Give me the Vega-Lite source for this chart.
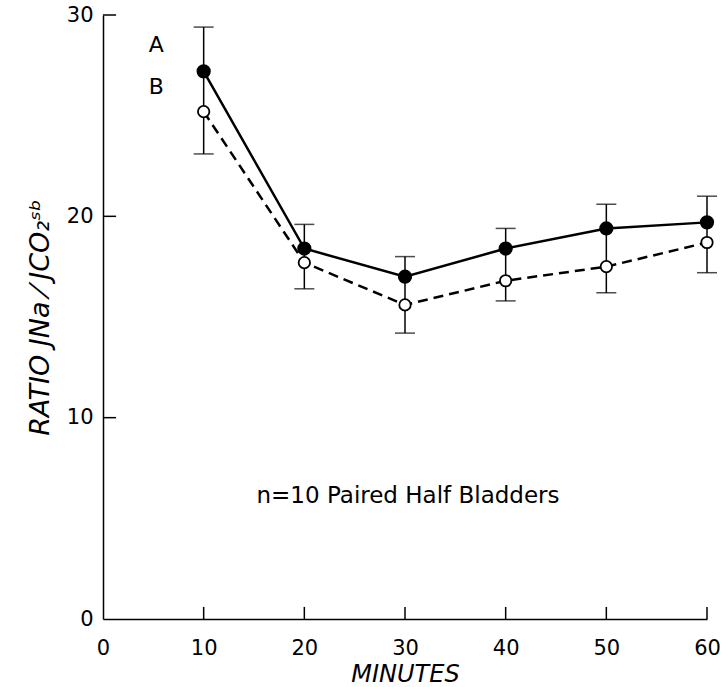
{
  "$schema": "https://vega.github.io/schema/vega-lite/v6.json",
  "width": 604,
  "height": 604,
  "autosize": "none",
  "padding": {"left": 103, "top": 15, "right": 18, "bottom": 68},
  "background": "white",
  "config": {
    "view": {"stroke": null},
    "font": "DejaVu Sans",
    "axis": {
      "grid": false,
      "domainColor": "black",
      "domainWidth": 1.5,
      "ticks": false,
      "labelFlush": false,
      "labelColor": "black",
      "labelFont": "DejaVu Sans",
      "labelFontSize": 21,
      "titleFont": "DejaVu Sans",
      "titleFontSize": 24,
      "titleFontStyle": "italic",
      "titleFontWeight": "normal",
      "titleColor": "black"
    }
  },
  "datasets": {
    "pts": [
      {"min": 10, "series": "A", "value": 27.2},
      {"min": 20, "series": "A", "value": 18.4},
      {"min": 30, "series": "A", "value": 17.0},
      {"min": 40, "series": "A", "value": 18.4},
      {"min": 50, "series": "A", "value": 19.4},
      {"min": 60, "series": "A", "value": 19.7},
      {"min": 10, "series": "B", "value": 25.2},
      {"min": 20, "series": "B", "value": 17.7},
      {"min": 30, "series": "B", "value": 15.6},
      {"min": 40, "series": "B", "value": 16.8},
      {"min": 50, "series": "B", "value": 17.5},
      {"min": 60, "series": "B", "value": 18.7}
    ],
    "err": [
      {"min": 10, "lo": 23.1, "hi": 29.4},
      {"min": 20, "lo": 16.4, "hi": 19.6},
      {"min": 30, "lo": 14.2, "hi": 18.0},
      {"min": 40, "lo": 15.8, "hi": 19.4},
      {"min": 50, "lo": 16.2, "hi": 20.6},
      {"min": 60, "lo": 17.2, "hi": 21.0}
    ],
    "xticks": [
      {"x": 10, "y0": 0, "y1": 0.6},
      {"x": 20, "y0": 0, "y1": 0.6},
      {"x": 30, "y0": 0, "y1": 0.6},
      {"x": 40, "y0": 0, "y1": 0.6},
      {"x": 50, "y0": 0, "y1": 0.6},
      {"x": 60, "y0": 0, "y1": 0.6}
    ],
    "yticks": [
      {"y": 10, "x0": 0, "x1": 1.3},
      {"y": 20, "x0": 0, "x1": 1.3},
      {"y": 30, "x0": 0, "x1": 1.3}
    ],
    "labels": [
      {"x": 5.3, "y": 28.5, "text": "A", "size": 22},
      {"x": 5.3, "y": 26.4, "text": "B", "size": 22},
      {"x": 30.3, "y": 6.1, "text": "n=10 Paired Half Bladders", "size": 23}
    ]
  },
  "layer": [
    {
      "data": {"name": "err"},
      "mark": {"type": "rule", "color": "black", "strokeWidth": 1.5},
      "encoding": {
        "x": {"field": "min", "type": "quantitative", "scale": {"domain": [0, 60], "nice": false},
              "axis": {"values": [0, 10, 20, 30, 40, 50, 60], "title": "MINUTES", "labelPadding": 18, "titlePadding": 4}},
        "y": {"field": "lo", "type": "quantitative", "scale": {"domain": [0, 30], "nice": false},
              "axis": {"values": [0, 10, 20, 30], "title": "RATIO JNa ⁄ JCO₂ˢᵇ", "titleFontSize": 27, "labelPadding": 10, "titlePadding": 12}},
        "y2": {"field": "hi"}
      }
    },
    {
      "data": {"name": "xticks"},
      "mark": {"type": "rule", "color": "black", "strokeWidth": 1.5},
      "encoding": {
        "x": {"field": "x", "type": "quantitative"},
        "y": {"field": "y0", "type": "quantitative"},
        "y2": {"field": "y1"}
      }
    },
    {
      "data": {"name": "yticks"},
      "mark": {"type": "rule", "color": "black", "strokeWidth": 1.5},
      "encoding": {
        "y": {"field": "y", "type": "quantitative"},
        "x": {"field": "x0", "type": "quantitative"},
        "x2": {"field": "x1"}
      }
    },
    {
      "data": {"name": "err"},
      "mark": {"type": "tick", "orient": "horizontal", "color": "black", "size": 20, "thickness": 1.5},
      "encoding": {
        "x": {"field": "min", "type": "quantitative"},
        "y": {"field": "lo", "type": "quantitative"}
      }
    },
    {
      "data": {"name": "err"},
      "mark": {"type": "tick", "orient": "horizontal", "color": "black", "size": 20, "thickness": 1.5},
      "encoding": {
        "x": {"field": "min", "type": "quantitative"},
        "y": {"field": "hi", "type": "quantitative"}
      }
    },
    {
      "data": {"name": "pts"},
      "transform": [{"filter": "datum.series === 'A'"}],
      "mark": {"type": "line", "color": "black", "strokeWidth": 2.5},
      "encoding": {
        "x": {"field": "min", "type": "quantitative"},
        "y": {"field": "value", "type": "quantitative"}
      }
    },
    {
      "data": {"name": "pts"},
      "transform": [{"filter": "datum.series === 'B'"}],
      "mark": {"type": "line", "color": "black", "strokeWidth": 2.5, "strokeDash": [10, 6]},
      "encoding": {
        "x": {"field": "min", "type": "quantitative"},
        "y": {"field": "value", "type": "quantitative"}
      }
    },
    {
      "data": {"name": "pts"},
      "transform": [{"filter": "datum.series === 'A'"}],
      "mark": {"type": "point", "shape": "circle", "filled": true, "fill": "black", "stroke": "black", "size": 150, "opacity": 1},
      "encoding": {
        "x": {"field": "min", "type": "quantitative"},
        "y": {"field": "value", "type": "quantitative"}
      }
    },
    {
      "data": {"name": "pts"},
      "transform": [{"filter": "datum.series === 'B'"}],
      "mark": {"type": "point", "shape": "circle", "filled": false, "fill": "white", "fillOpacity": 1, "stroke": "black", "strokeWidth": 1.8, "size": 130, "opacity": 1},
      "encoding": {
        "x": {"field": "min", "type": "quantitative"},
        "y": {"field": "value", "type": "quantitative"}
      }
    },
    {
      "data": {"name": "labels"},
      "mark": {"type": "text", "color": "black", "align": "center", "baseline": "middle", "font": "DejaVu Sans"},
      "encoding": {
        "x": {"field": "x", "type": "quantitative"},
        "y": {"field": "y", "type": "quantitative"},
        "text": {"field": "text"},
        "size": {"field": "size", "type": "quantitative", "scale": null}
      }
    }
  ]
}
